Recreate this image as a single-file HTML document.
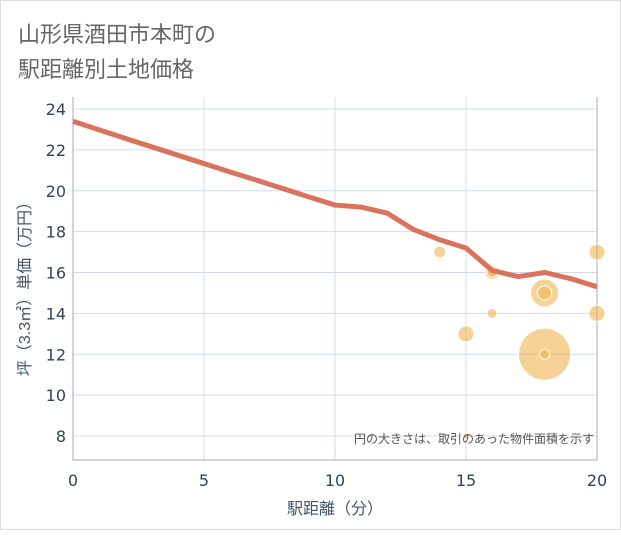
<!DOCTYPE html>
<html><head><meta charset="utf-8"><style>
body{margin:0;background:#fff;}
svg text{font-family:"Liberation Sans","Noto Sans CJK JP",sans-serif;}
svg text.tk{font-family:"DejaVu Sans","Noto Sans CJK JP",sans-serif;}
</style></head><body>
<svg width="621" height="530">
<rect x="0.5" y="0.5" width="620" height="529" fill="#fff" stroke="#ddd"/>
<text x="18" y="42" font-size="22" fill="#666">山形県酒田市本町の</text>
<text x="18" y="77" font-size="22" fill="#666">駅距離別土地価格</text>
<g id="grid"></g>
<g id="marks"></g>
<text x="594" y="443" font-size="12" fill="#555" text-anchor="end">円の大きさは、取引のあった物件面積を示す</text>
<text x="335" y="514" font-size="16" fill="#456" text-anchor="middle">駅距離（分）</text>
<text transform="translate(30,285) rotate(-90)" font-size="16" fill="#456" text-anchor="middle">坪（3.3㎡）単価（万円）</text>
</svg>
<script>
const xTicks=[0,5,10,15,20];
const yTicks=[8,10,12,14,16,18,20,22,24];
const lineX=[0,1,2,3,4,5,6,7,8,9,10,11,12,13,14,15,16,17,18,19,20];
const lineY=[23.4,22.98,22.56,22.15,21.74,21.33,20.92,20.52,20.11,19.7,19.3,19.2,18.9,18.1,17.6,17.2,16.1,15.8,16.0,15.7,15.3];
const bubX=[14,16,18,20,20,15,16,18,18,18,15,16];
const bubY=[17,16,15,17,14,13,14,12,12,15,8,16];
const bubR=[6,7,14,8,8,8,5,26,5,7,3,5];
const ns="http://www.w3.org/2000/svg";
const x0=73,x1=597,yTop=109,yBot=436;
const sx=v=>x0+(v-0)/(20-0)*(x1-x0);
const sy=v=>yBot-(v-8)/(24-8)*(yBot-yTop);
const g=document.getElementById('grid'),m=document.getElementById('marks');
function el(t,a,p){const e=document.createElementNS(ns,t);for(const k in a)e.setAttribute(k,a[k]);p.appendChild(e);return e;}
const bg=el('rect',{x:x0,y:97,width:x1-x0,height:363,fill:'#fff'},g);


xTicks.forEach(v=>{
 const l=el('line',{x1:sx(v),x2:sx(v),y1:97,y2:460,stroke:'#d0dce8','stroke-width':1},g);
 
 
 const t=el('text',{x:sx(v),y:486,'font-size':16,fill:'#345','text-anchor':'middle','class':'tk'},g);t.textContent=v;
 
 
});
yTicks.forEach(v=>{
 const l=el('line',{x1:x0,x2:x1,y1:sy(v),y2:sy(v),stroke:'#d0dce8','stroke-width':1},g);
 
 
 const t=el('text',{x:66,y:sy(v)+6,'font-size':16,fill:'#345','text-anchor':'end','class':'tk'},g);t.textContent=v;
 
 
});
const ax=el('path',{d:`M${x0},97V460H${x1}V97`,stroke:'#aab',fill:'none'},g);


bubX.forEach((v,i)=>{
 const c=el('circle',{cx:sx(v),cy:sy(bubY[i]),r:bubR[i],fill:'rgba(240,180,80,0.6)',stroke:'#fff','stroke-width':1},m);
 
 
});
const p=el('polyline',{points:lineX.map((v,i)=>sx(v)+','+sy(lineY[i])).join(' '),fill:'none',stroke:'#d9735e','stroke-width':5,'stroke-linejoin':'round'},m);


</script>
</body></html>
